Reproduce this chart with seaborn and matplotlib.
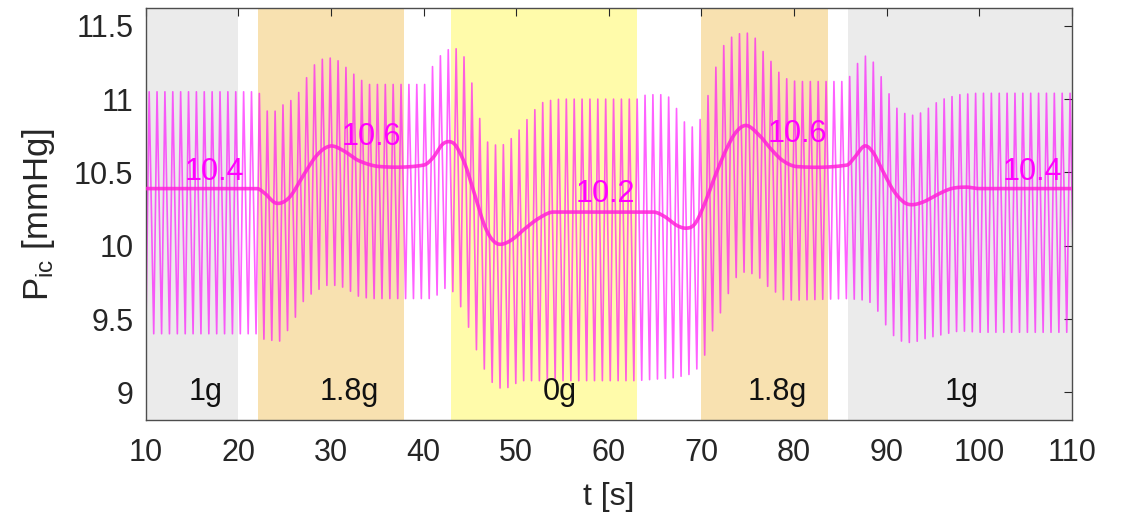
import numpy as np
import pandas as pd
import matplotlib
matplotlib.use("Agg")
import matplotlib.pyplot as plt
import seaborn as sns

# ---------------- data ----------------
phase_starts = [10, 22.1, 43, 70, 85.8]
phase_ends = [20, 37.9, 63, 83.7, 110]
phase_labels = ["1g", "1.8g", "0g", "1.8g", "1g"]

# smoothed mean intracranial pressure (knots, s / mmHg)
mean_t = [10, 22, 22.8, 24.1, 25.5, 27, 28.5, 29.9, 31.3, 33, 35.3, 40, 41, 42,
          42.8, 43.5, 44.5, 45.5, 46.5, 47.3, 48.2, 49.5, 51, 52.5, 54, 58, 64.8,
          66, 67.3, 68.4, 69.3, 70.3, 71.5, 72.7, 73.8, 74.9, 76.3, 77.5, 78.8,
          80.3, 85.7, 86.5, 87.6, 88.5, 89.5, 90.7, 91.8, 92.7, 94, 95.5, 97,
          98.6, 100, 110]
mean_p = [10.39, 10.39, 10.36, 10.29, 10.33, 10.48, 10.62, 10.68, 10.65, 10.58,
          10.54, 10.55, 10.60, 10.69, 10.71, 10.68, 10.55, 10.35, 10.15, 10.05,
          10.01, 10.04, 10.12, 10.19, 10.23, 10.23, 10.23, 10.20, 10.14, 10.12,
          10.15, 10.28, 10.48, 10.66, 10.78, 10.82, 10.75, 10.66, 10.58, 10.54,
          10.55, 10.60, 10.68, 10.64, 10.52, 10.38, 10.30, 10.28, 10.30, 10.35,
          10.39, 10.40, 10.39, 10.39]

# upper envelope of the pulsatile signal (systolic peaks)
upper_t = [10, 22.2, 22.8, 23.6, 25.2, 26.1, 27.0, 27.7, 28.4, 29.3, 30.2, 31.1,
           32.0, 32.9, 33.8, 40.3, 41.0, 41.7, 42.5, 43.2, 44.3, 45.3, 46.0, 46.8,
           47.5, 48.4, 49.3, 50.2, 50.9, 51.8, 52.5, 53.6, 54.7, 63.3, 64.0, 66.2,
           67.0, 67.7, 68.6, 69.5, 70.2, 71.0, 71.7, 72.5, 73.4, 74.3, 75.2, 75.9,
           76.7, 77.6, 78.5, 79.4, 80.3, 85.7, 86.6, 87.5, 88.4, 89.1, 90.0, 90.7,
           91.6, 92.5, 93.2, 94.1, 94.8, 95.7, 96.6, 97.9, 99.7, 110]
upper_p = [11.05, 11.05, 10.93, 10.90, 10.98, 11.00, 11.10, 11.19, 11.25, 11.28,
           11.28, 11.25, 11.19, 11.15, 11.10, 11.10, 11.23, 11.29, 11.33, 11.36,
           11.30, 11.09, 10.88, 10.71, 10.69, 10.68, 10.72, 10.78, 10.84, 10.91,
           10.97, 10.99, 11.00, 11.00, 11.03, 11.03, 10.98, 10.88, 10.81, 10.81,
           10.91, 11.09, 11.25, 11.38, 11.43, 11.45, 11.45, 11.41, 11.32, 11.25,
           11.17, 11.13, 11.12, 11.12, 11.22, 11.30, 11.27, 11.19, 11.08, 10.96,
           10.91, 10.89, 10.89, 10.92, 10.95, 10.99, 11.01, 11.03, 11.04, 11.04]

# lower envelope of the pulsatile signal (diastolic troughs)
lower_t = [10, 22.2, 22.8, 24.5, 25.5, 26.3, 27.0, 28.0, 29.5, 30.6, 31.7, 32.7,
           34.2, 41.0, 42.5, 43.3, 44.4, 45.35, 46.3, 47.2, 48.1, 49.0, 49.9,
           50.8, 63.0, 67.0, 68.6, 69.5, 70.4, 71.2, 72.1, 73.0, 73.8, 74.6, 75.5,
           76.3, 77.2, 78.1, 78.9, 80.5, 85.8, 87.5, 88.4, 89.1, 90.0, 90.7, 91.6,
           92.5, 93.4, 94.3, 95.7, 97.9, 100, 110]
lower_p = [9.40, 9.40, 9.36, 9.35, 9.44, 9.53, 9.62, 9.68, 9.73, 9.73, 9.71, 9.66,
           9.64, 9.64, 9.72, 9.68, 9.53, 9.35, 9.19, 9.08, 9.03, 9.03, 9.06, 9.08,
           9.08, 9.10, 9.12, 9.16, 9.26, 9.42, 9.55, 9.69, 9.79, 9.82, 9.81, 9.78,
           9.72, 9.68, 9.63, 9.63, 9.64, 9.63, 9.61, 9.55, 9.45, 9.39, 9.35, 9.34,
           9.35, 9.37, 9.39, 9.42, 9.41, 9.41]

beat_period = 0.85  # s, heart beat interval

mean_labels = ["10.4", "10.6", "10.2", "10.6", "10.4"]

x_ticks = [10, 20, 30, 40, 50, 60, 70, 80, 90, 100, 110]
y_ticks = [9, 9.5, 10, 10.5, 11, 11.5]
y_ticklabels = ["9", "9.5", "10", "10.5", "11", "11.5"]

# ---------------- layout / style ----------------
phase_colors = ["#ebebeb", "#f8e1b0", "#fffbaa", "#f8e1b0", "#ebebeb"]
phase_label_x = [16.5, 32.0, 54.7, 78.2, 98.1]
phase_label_y = 9.0
mean_label_x = [17.4, 34.4, 59.6, 80.4, 105.7]
mean_label_y = [10.50, 10.74, 10.355, 10.76, 10.50]
FS = 22


def smooth_curve(xk, yk, n=12):
    """Cubic Hermite through every knot (x stays monotone) to round corners."""
    xk = np.asarray(xk, float)
    yk = np.asarray(yk, float)
    m = np.zeros_like(yk)
    m[1:-1] = (yk[2:] - yk[:-2]) / (xk[2:] - xk[:-2])
    # flat segments stay flat
    for i in range(1, len(yk) - 1):
        if yk[i] == yk[i - 1] or yk[i] == yk[i + 1]:
            m[i] = 0.0
    xs, ys = [], []
    u = np.linspace(0, 1, n, endpoint=False)
    h00 = 2 * u ** 3 - 3 * u ** 2 + 1
    h10 = u ** 3 - 2 * u ** 2 + u
    h01 = -2 * u ** 3 + 3 * u ** 2
    h11 = u ** 3 - u ** 2
    for i in range(len(xk) - 1):
        h = xk[i + 1] - xk[i]
        xs.append(xk[i] + h * u)
        ys.append(h00 * yk[i] + h10 * h * m[i] + h01 * yk[i + 1] + h11 * h * m[i + 1])
    xs.append([xk[-1]])
    ys.append([yk[-1]])
    return np.concatenate(xs), np.concatenate(ys)


sns.set_theme(style="white")
plt.rcParams["font.family"] = ["Liberation Sans", "DejaVu Sans"]
plt.rcParams["mathtext.fontset"] = "custom"
plt.rcParams["mathtext.rm"] = "Liberation Sans"

fig = plt.figure(figsize=(11.22, 5.15), dpi=100)
ax = fig.add_axes([0.130, 0.184, 0.8253, 0.800])

for s, e, c in zip(phase_starts, phase_ends, phase_colors):
    ax.axvspan(s, e, color=c, lw=0, zorder=0)

# pulsatile signal: alternating trough / peak per beat
n_beats = int(np.ceil((phase_ends[-1] - phase_starts[0]) / beat_period)) + 1
trough_times = phase_starts[0] + beat_period * np.arange(n_beats)
peak_times = trough_times + 0.42 * beat_period
wave_t = np.empty(2 * n_beats)
wave_t[0::2] = trough_times
wave_t[1::2] = peak_times
wave_p = np.empty(2 * n_beats)
wave_p[0::2] = np.interp(trough_times, lower_t, lower_p)
wave_p[1::2] = np.interp(peak_times, upper_t, upper_p)
wave = pd.DataFrame({"t": wave_t, "p": wave_p})
sns.lineplot(data=wave, x="t", y="p", ax=ax, estimator=None, sort=False,
             color="#ff00ff", alpha=0.62, lw=1.2, zorder=2)

mt, mp = smooth_curve(mean_t, mean_p)
mean_df = pd.DataFrame({"t": mt, "p": mp})
sns.lineplot(data=mean_df, x="t", y="p", ax=ax, estimator=None, sort=False,
             color="#ff22d8", alpha=0.85, lw=2.6, zorder=3)

for lab, x in zip(phase_labels, phase_label_x):
    ax.text(x, phase_label_y, lab, ha="center", va="center", fontsize=FS,
            color="#111111", zorder=4)
for lab, x, y in zip(mean_labels, mean_label_x, mean_label_y):
    ax.text(x, y, lab, ha="center", va="center", fontsize=FS,
            color="#ff00ff", zorder=4)

ax.set_xlim(10, 110)
ax.set_ylim(8.81, 11.62)
ax.set_xticks(x_ticks)
ax.set_yticks(y_ticks)
ax.set_yticklabels(y_ticklabels)
ax.tick_params(direction="in", top=True, right=True, length=6, width=0.8,
               labelsize=FS, colors="#262626")
ax.tick_params(axis="x", pad=13)
ax.tick_params(axis="y", pad=9)
for sp in ax.spines.values():
    sp.set_color("#4d4d4d")
    sp.set_linewidth(1.0)

ax.set_xlabel("t [s]", fontsize=FS + 1, color="#262626", labelpad=10)
ax.set_ylabel(r"$\mathregular{P_{ic}}$ [mmHg]", fontsize=FS + 3, color="#262626",
              labelpad=12)

fig.savefig("out.png", dpi=100)
